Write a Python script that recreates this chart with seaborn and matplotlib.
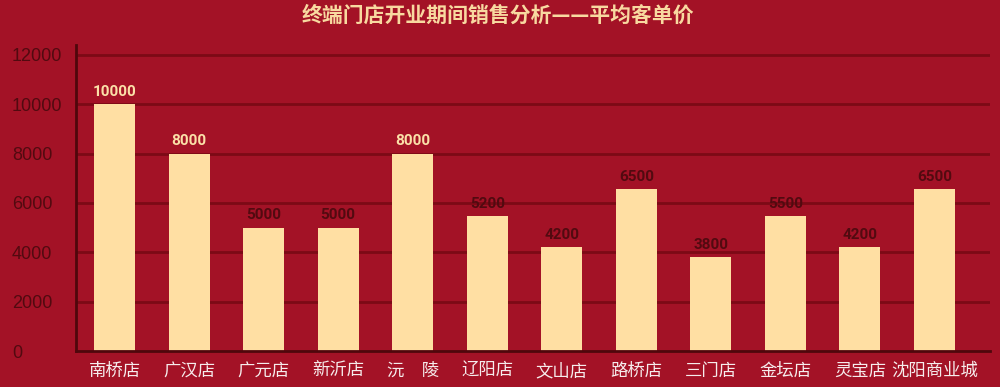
import matplotlib
matplotlib.use("Agg")
import matplotlib.pyplot as plt
import seaborn as sns
import pandas as pd

# data
stores = ["南桥店", "广汉店", "广元店", "新沂店", "沅　陵", "辽阳店",
          "文山店", "路桥店", "三门店", "金坛店", "灵宝店", "沈阳商业城"]
bar_heights = [10000, 8000, 5000, 5000, 8000, 5450, 4200, 6550, 3800, 5450, 4200, 6550]
value_labels = ["10000", "8000", "5000", "5000", "8000", "5200",
                "4200", "6500", "3800", "5500", "4200", "6500"]
y_ticks = [0, 2000, 4000, 6000, 8000, 10000, 12000]

BG = "#A31226"
BAR = "#FFDFA3"
GRID = "#7C0A16"
SPINE = "#4F070C"
DARK_TXT = "#520A10"
LIGHT_TXT = "#FBE0A8"

sns.set_theme(style="white")
plt.rcParams["font.family"] = ["Noto Sans CJK SC", "DejaVu Sans"]

df = pd.DataFrame({"store": stores, "value": bar_heights})

fig = plt.figure(figsize=(10, 3.87), dpi=100, facecolor=BG)
ax = fig.add_axes([0.076, 0.093, 0.914, 0.791])
ax.set_facecolor(BG)

sns.barplot(data=df, x="store", y="value", color=BAR, saturation=1,
            width=0.55, linewidth=0, ax=ax, zorder=3)

ax.set_xlim(-0.517, 11.746)
ax.set_ylim(0, 12400)
ax.set_yticks(y_ticks)
for y in y_ticks[1:]:
    ax.axhline(y, color=GRID, lw=2, zorder=1)

for s in ["top", "right"]:
    ax.spines[s].set_visible(False)
for s in ["left", "bottom"]:
    ax.spines[s].set_color(SPINE)
    ax.spines[s].set_linewidth(2)
    ax.spines[s].set_zorder(4)

ax.set_xlabel("")
ax.set_ylabel("")
ax.tick_params(axis="x", length=0, pad=8, labelsize=12.5, labelcolor="#F6ECEC")
ax.tick_params(axis="y", length=0, pad=46, labelsize=13, labelcolor=DARK_TXT)
for lab in ax.get_yticklabels():
    lab.set_ha("left")
    lab.set_family("Liberation Sans")

# value labels above bars
for i, (h, txt) in enumerate(zip(bar_heights, value_labels)):
    col = LIGHT_TXT if h >= 8000 else DARK_TXT
    ax.text(i, h + 220, txt, ha="center", va="bottom", fontsize=11,
            fontweight="bold", color=col, family="Roboto", zorder=5)

fig.text(0.498, 0.96, "终端门店开业期间销售分析——平均客单价", ha="center",
         va="center", fontsize=15, fontweight="bold", color="#F8D9A0")

fig.savefig("out.png", dpi=100, facecolor=BG)
